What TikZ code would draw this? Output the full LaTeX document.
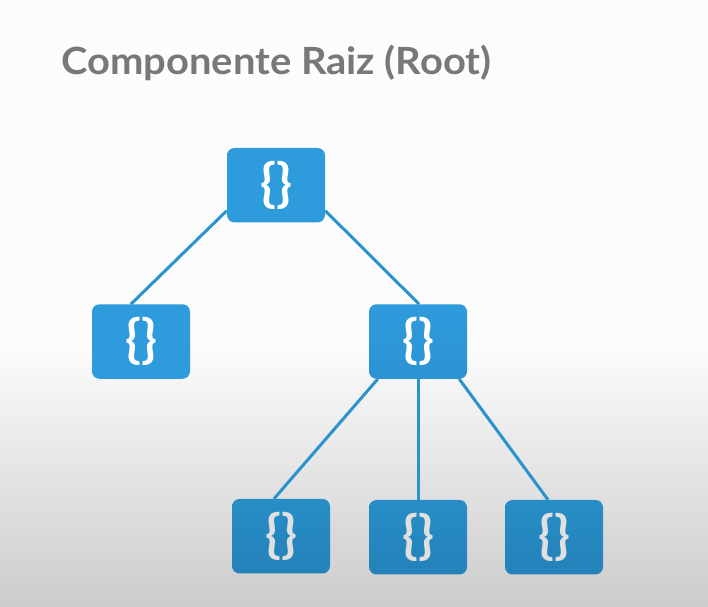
\documentclass[tikz,border=0pt]{standalone}
\usepackage{fontspec}
\setmainfont{Lato}
\newfontfamily\titlefont[FakeStretch=1.065,BoldFont={Lato Bold}]{Lato}
\newfontfamily\bracefont{Lato Bold}
\usetikzlibrary{calc}
\definecolor{titlegray}{HTML}{787878}
\definecolor{linkblue}{HTML}{2A93CE}
\definecolor{boxtop}{HTML}{2E9BDD}
\definecolor{boxbot}{HTML}{2C93D2}
\definecolor{lowtop}{HTML}{288DC6}
\definecolor{lowbot}{HTML}{2482BA}
\definecolor{bracelow}{HTML}{E0E0E0}
\tikzset{
  comp/.style={rounded corners=7.5pt,minimum width=98pt,minimum height=74.5pt,inner sep=0pt,
    top color=boxtop,bottom color=boxtop,text=white,
    font=\fontsize{52}{52}\selectfont\bracefont},
  midcomp/.style={comp,top color=boxtop,bottom color=boxbot},
  lowcomp/.style={comp,top color=lowtop,bottom color=lowbot,text=bracelow},
  link/.style={draw=linkblue,line width=3pt}
}
\begin{document}
\begin{tikzpicture}[x=1pt,y=-1pt]
\useasboundingbox (0,0) rectangle (708,606);
\fill[white!99!black] (0,0) rectangle (708,345);
\shade[top color=white!99!black,bottom color=white!80!black,shading angle=0] (0,340) rectangle (708,606);
\node[anchor=base west,text=titlegray,font=\fontsize{37.5}{40}\selectfont\titlefont\bfseries,inner sep=0pt] (title) at (61,74) {Componente Raiz (Root)};
\node[comp] (root) at (276,185.2) {\raisebox{-2.5pt}{\{\}}};
\node[comp] (left) at (141,341.5) {\raisebox{-2.5pt}{\{\}}};
\node[midcomp] (right) at (418,341.5) {\raisebox{-2.5pt}{\{\}}};
\node[lowcomp] (a) at (281,536.2) {\raisebox{-2.5pt}{\{\}}};
\node[lowcomp] (b) at (418,537.2) {\raisebox{-2.5pt}{\{\}}};
\node[lowcomp] (c) at (554,537.2) {\raisebox{-2.5pt}{\{\}}};
\draw[link] ($(root.south west)+(0,-12)$) -- ($(left.north)+(-10,0)$);
\draw[link] ($(root.south east)+(0,-12)$) -- ($(right.north)+(1,0)$);
\draw[link] ($(right.south west)+(9,0)$) -- ($(a.north)+(-7,0)$);
\draw[link] (right.south) -- (b.north);
\draw[link] ($(right.south east)+(-8,0)$) -- ($(c.north)+(-6,0)$);
\end{tikzpicture}
\end{document}
